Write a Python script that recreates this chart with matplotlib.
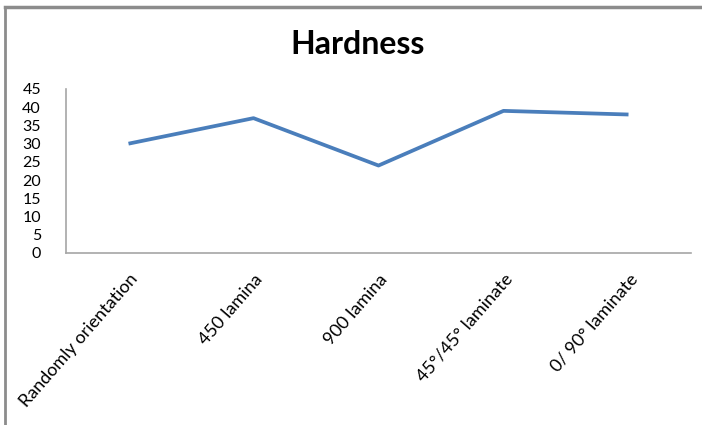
import matplotlib.pyplot as plt
from matplotlib.lines import Line2D

plt.rcParams['font.family'] = ['Lato', 'DejaVu Sans']

# hardness for each fibre arrangement
categories = ['Randomly orientation', '450 lamina', '900 lamina',
              '45°/45° laminate', '0/ 90° laminate']
hardness = [30, 37, 24, 39, 38]
yticks = [0, 5, 10, 15, 20, 25, 30, 35, 40, 45]

fig = plt.figure(figsize=(7.02, 4.25), dpi=100)
ax = fig.add_axes([66 / 702, 1 - 253 / 425, 625 / 702, 164 / 425])

x = list(range(len(categories)))
ax.plot(x, hardness, color='#4a7ebb', linewidth=2.7, solid_capstyle='butt')

ax.set_xlim(-0.5, len(categories) - 0.5)
ax.set_ylim(0, 45)
ax.set_yticks(yticks)
ax.set_yticklabels([str(v) for v in yticks], fontsize=11.5)
ax.set_xticks(x)
ax.set_xticklabels(categories, rotation=49, ha='right', va='top',
                   rotation_mode='anchor', fontsize=13)
ax.tick_params(axis='y', length=0, pad=18)
ax.tick_params(axis='x', length=0, pad=13)

for side in ['top', 'right']:
    ax.spines[side].set_visible(False)
for side in ['left', 'bottom']:
    ax.spines[side].set_color('#a6a6a6')
    ax.spines[side].set_linewidth(1.2)

fig.text(358 / 702, 1 - 44 / 425, 'Hardness', ha='center', va='center',
         fontsize=23, fontweight='bold')

# chart border along the top and left edges
fig.add_artist(Line2D([5 / 702, 5 / 702], [0, 1 - 7 / 425],
                      transform=fig.transFigure, color='#8c8c8c', linewidth=2))
fig.add_artist(Line2D([5 / 702, 1], [1 - 7 / 425, 1 - 7 / 425],
                      transform=fig.transFigure, color='#8c8c8c', linewidth=2.5))

fig.savefig('out.png', dpi=100)
